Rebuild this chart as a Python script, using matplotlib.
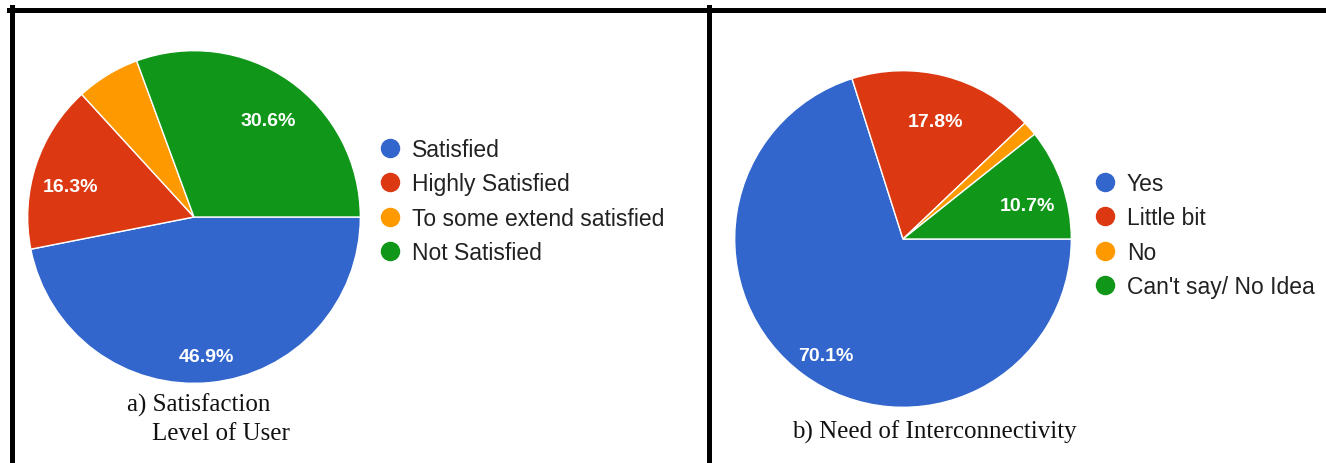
import matplotlib.pyplot as plt
from matplotlib.lines import Line2D

W, H = 1326, 464

colors = ['#3366cc', '#dc3912', '#ff9900', '#109618']

satisfaction_labels = ['Satisfied', 'Highly Satisfied', 'To some extend satisfied', 'Not Satisfied']
satisfaction_pct = [46.9, 16.3, 6.2, 30.6]

interconnect_labels = ['Yes', 'Little bit', 'No', "Can't say/ No Idea"]
interconnect_pct = [70.1, 17.8, 1.4, 10.7]


def px_axes(fig, cx, cy, r):
    # square axes placed by pixel centre/radius
    return fig.add_axes([(cx - r) / W, (H - cy - r) / H, 2 * r / W, 2 * r / H])


def draw_pie(ax, values):
    _, _, autotexts = ax.pie(
        values, colors=colors, startangle=0, counterclock=False,
        autopct=lambda p: f'{p:.1f}%' if p > 8 else '', pctdistance=0.78,
        wedgeprops=dict(edgecolor='white', linewidth=1),
        textprops=dict(color='white', fontsize=14, fontweight='bold',
                       family='Liberation Sans'))
    # labels sit a little below the slice midline
    for t in autotexts:
        x, y = t.get_position()
        t.set_position((x, y - 0.06))
    ax.set_xlim(-1.01, 1.01)
    ax.set_ylim(-1.01, 1.01)
    ax.axis('off')


def draw_legend(fig, labels, x, y):
    handles = [Line2D([], [], ls='', marker='o', ms=13, color=c) for c in colors]
    fig.legend(handles, labels, loc='upper left', bbox_to_anchor=(x / W, 1 - y / H),
               frameon=False, prop=dict(family='Liberation Sans', size=16.5),
               labelcolor='#222222', handletextpad=0.55, handlelength=0.8,
               labelspacing=0.5, borderaxespad=0, borderpad=0)


def main():
    fig = plt.figure(figsize=(W / 100, H / 100), dpi=100)

    ax1 = px_axes(fig, 194, 218, 168)
    draw_pie(ax1, satisfaction_pct)
    draw_legend(fig, satisfaction_labels, 381, 139)
    fig.text(127 / W, 1 - 405 / H, 'a) Satisfaction', family='Liberation Serif',
             fontsize=18, color='#111111', va='center', ha='left')
    fig.text(152 / W, 1 - 434 / H, 'Level of User', family='Liberation Serif',
             fontsize=18, color='#111111', va='center', ha='left')

    ax2 = px_axes(fig, 903, 240, 170)
    draw_pie(ax2, interconnect_pct)
    draw_legend(fig, interconnect_labels, 1096, 173)
    fig.text(934.5 / W, 1 - 432 / H, 'b) Need of Interconnectivity', family='Liberation Serif',
             fontsize=18, color='#111111', va='center', ha='center')

    # panel frame lines
    lw = 5 * 72 / 100
    fig.add_artist(Line2D([9 / W, 1], [1 - 10.5 / H] * 2, color='black', lw=lw))
    fig.add_artist(Line2D([11.5 / W] * 2, [0, 1 - 8 / H], color='black', lw=lw))
    fig.add_artist(Line2D([708.5 / W] * 2, [0, 1 - 8 / H], color='black', lw=lw))

    fig.savefig('out.png', dpi=100, facecolor='white')


if __name__ == '__main__':
    main()
